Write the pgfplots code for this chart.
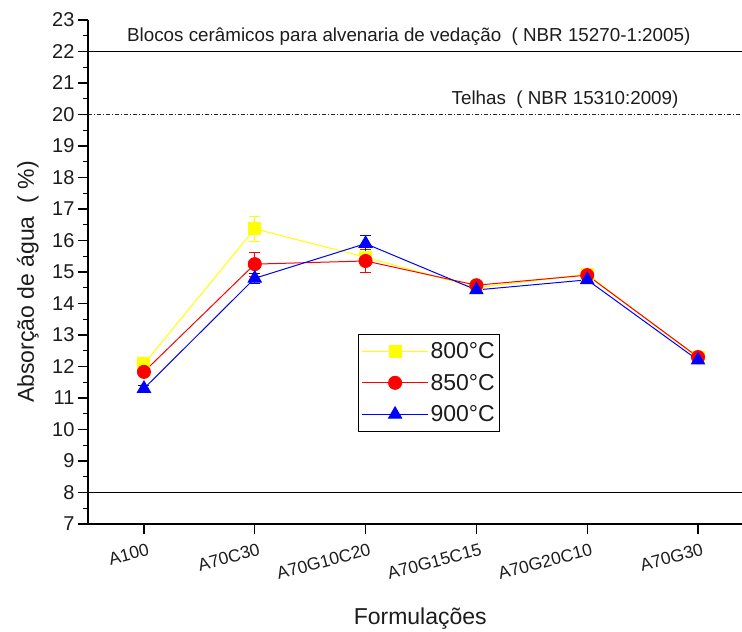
\documentclass[border=0pt]{standalone}
\usepackage{fontspec}
\setmainfont{Liberation Sans}
\usepackage{pgfplots}
\pgfplotsset{compat=1.18}
\usetikzlibrary{calc}

\definecolor{txt}{HTML}{1C1C1C}
\definecolor{c800}{HTML}{FFFF00}
\definecolor{c850}{HTML}{FF0000}
\definecolor{c900}{HTML}{0000FF}

% water absorption (%) per formulation: x, mean, standard deviation
\pgfplotstableread{
x  y      e
0  12.08  0.10
1  16.37  0.40
2  15.47  0.15
3  14.50  0.10
4  14.93  0.10
5  12.27  0.08
}\tabA
\pgfplotstableread{
x  y      e
0  11.83  0.10
1  15.25  0.38
2  15.35  0.38
3  14.58  0.08
4  14.90  0.08
5  12.30  0.08
}\tabB
\pgfplotstableread{
x  y      e
0  11.30  0.10
1  14.80  0.15
2  15.90  0.25
3  14.43  0.10
4  14.75  0.10
5  12.20  0.10
}\tabC

\begin{document}
\begin{tikzpicture}
\begin{axis}[
  scale only axis,
  width=654pt, height=504pt,
  xmin=-0.505, xmax=5.397,
  ymin=7, ymax=23,
  axis lines*=left,
  axis line style={line width=1.4pt, black},
  xtick={0,1,2,3,4,5},
  xticklabels={A100,A70C30,A70G10C20,A70G15C15,A70G20C10,A70G30},
  ytick={7,8,...,23},
  minor y tick num=1,
  tick align=outside,
  major tick length=10pt,
  minor tick length=5pt,
  tick style={black, line width=1.3pt},
  /pgf/number format/assume math mode=true,
  xticklabel style={rotate=15, anchor=north east, yshift=-6pt, xshift=4pt,
    font=\fontsize{17.5}{19}\selectfont, text=txt},
  yticklabel style={font=\fontsize{20}{22}\selectfont, text=txt},
  xlabel={Formulações},
  ylabel={Absorção de água\ \ ( \%)},
  xlabel style={at={(axis description cs:0.508,-0.187)}, anchor=center,
    font=\fontsize{23}{26}\selectfont, text=txt},
  ylabel style={at={(axis description cs:-0.092,0.48)}, anchor=center, rotate=0,
    font=\fontsize{23}{26}\selectfont, text=txt},
  clip=false,
  legend style={at={(rel axis cs:0.413,0.377)}, anchor=north west,
    draw=black, line width=1pt, fill=white,
    font=\fontsize{23}{26}\selectfont, text=txt,
    inner xsep=3pt, inner ysep=6pt, row sep=10pt,
    /tikz/every even column/.append style={column sep=2pt}},
  legend cell align=left,
  legend image code/.code={
    \draw[mark repeat=2, mark phase=2, #1]
      plot coordinates {(0pt,0pt) (33pt,0pt) (66pt,0pt)};},
  error bars/y dir=both,
  error bars/y explicit,
]
% reference limits from the standards
\addplot[forget plot, black, line width=1.2pt] coordinates {(-0.505,22) (5.397,22)};
\addplot[forget plot, black!85, line width=1pt,
  dash pattern=on 4pt off 2pt on 1pt off 2pt] coordinates {(-0.505,20) (5.397,20)};
\addplot[forget plot, black, line width=1.2pt] coordinates {(-0.505,8) (5.397,8)};
\node[anchor=base, text=txt, font=\fontsize{18.8}{20}\selectfont]
  at (axis cs:2.39,22.32) {Blocos cerâmicos para alvenaria de vedação\ \ ( NBR 15270-1:2005)};
\node[anchor=base, text=txt, font=\fontsize{18.8}{20}\selectfont]
  at (axis cs:3.80,20.33) {Telhas\ \ ( NBR 15310:2009)};

\addplot[c800, line width=1pt, mark=square*, mark size=6pt,
  mark options={solid, fill=c800, draw=c800},
  error bars/error bar style={line width=1pt, c800},
  error bars/error mark options={line width=1pt, c800, mark size=5.5pt, rotate=90}]
  table[x=x, y=y, y error=e] {\tabA};
\addlegendentry{800°C}
\addplot[c850, line width=1pt, mark=*, mark size=6.5pt,
  mark options={solid, fill=c850, draw=c850},
  error bars/error bar style={line width=1pt, c850},
  error bars/error mark options={line width=1pt, c850, mark size=5.5pt, rotate=90}]
  table[x=x, y=y, y error=e] {\tabB};
\addlegendentry{850°C}
\addplot[c900, line width=1pt, mark=triangle*, mark size=7.5pt,
  mark options={solid, fill=c900, draw=c900},
  error bars/error bar style={line width=1pt, c900},
  error bars/error mark options={line width=1pt, c900, mark size=5.5pt, rotate=90}]
  table[x=x, y=y, y error=e] {\tabC};
\addlegendentry{900°C}

\coordinate (bl) at (rel axis cs:0,0);
\end{axis}
\pgfresetboundingbox
\path ([shift={(-88pt,-108pt)}]bl) rectangle ([shift={(654pt,524pt)}]bl);
\end{tikzpicture}
\end{document}
